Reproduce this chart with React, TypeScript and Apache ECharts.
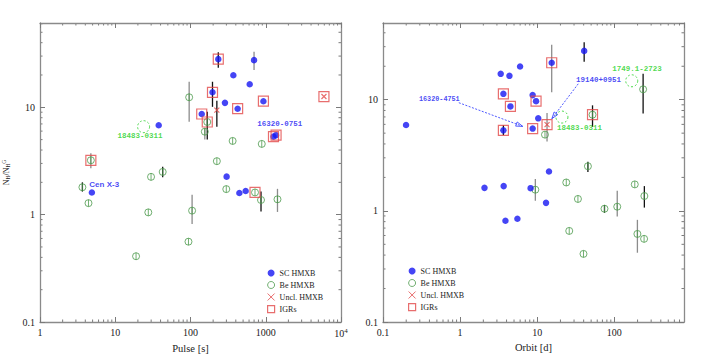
import React, { useEffect, useRef } from "react";
import * as echarts from "echarts";

// ---------- Left panel: N_H ratio vs spin period (Pulse [s]) ----------
const pulseSC: number[][] = [
  [37.8, 6.8], [141, 8.66], [196, 13.8], [234, 28.1], [287, 11.0], [371, 19.9],
  [423, 9.7], [302, 2.26], [612, 16.4], [699, 27.5], [931, 11.4], [1267, 5.33],
  [1371, 5.5], [4.89, 1.61], [446, 1.59], [541, 1.66],
];
const pulseBe: number[][] = [
  [4.74, 3.21], [29.9, 2.25], [42.7, 2.5], [96, 12.4], [167, 7.3], [155, 5.93],
  [363, 4.86], [224, 3.15], [885, 4.56], [3.66, 1.8], [4.41, 1.28], [27.5, 1.05],
  [18.9, 0.41], [94, 0.56], [105, 1.09], [299, 1.73], [720, 1.61], [865, 1.37],
  [1432, 1.39],
];
const pulseUncl: number[][] = [[224, 9.4], [5933, 12.6]];
const pulseIGR: number[][] = [
  [4.74, 3.21], [141, 8.66], [167, 7.3], [196, 13.8], [234, 28.1], [423, 9.7],
  [931, 11.4], [1267, 5.33], [1371, 5.5], [720, 1.61], [5933, 12.6],
];
const pulseSpecial: number[][] = [[23.8, 6.6]];
// [x, low, high]
const pulseErrBlack: number[][] = [
  [234, 23.4, 32.5], [196, 10.1, 17.3], [224, 6.6, 11.5], [167, 5.0, 9.1],
  [3.66, 1.64, 2.0], [42.7, 2.23, 2.8], [865, 1.07, 1.64],
];
const pulseErrGray: number[][] = [
  [96, 7.35, 17.3], [155, 5.0, 6.4], [699, 22.2, 33], [4.74, 2.7, 3.73],
  [105, 0.82, 1.53], [1432, 1.06, 1.74],
];
const pulseLabels = [
  { name: "Cen X-3", pos: [7.13, 1.89], kind: "blueSans" },
  { name: "18483-0311", pos: [21.4, 5.44], kind: "green" },
  { name: "16320-0751", pos: [1537, 6.95], kind: "blue" },
];

// ---------- Right panel: N_H ratio vs orbital period (Orbit [d]) ----------
const orbitSC: number[][] = [
  [0.199, 5.92], [3.36, 17.1], [4.36, 16.4], [5.99, 19.9], [3.64, 11.3], [4.49, 8.7],
  [3.64, 5.3], [8.72, 11.0], [9.65, 9.7], [10.3, 6.8], [8.72, 5.5], [15.4, 21.5],
  [40.6, 27.5], [14.2, 2.26], [2.07, 1.61], [3.67, 1.67], [8.2, 1.6], [13.0, 1.18],
  [3.87, 0.815], [5.53, 0.85],
];
const orbitBe: number[][] = [
  [12.6, 4.85], [52.1, 7.33], [236, 12.4], [45.4, 2.52], [9.45, 1.55], [23.8, 1.8],
  [33.7, 1.28], [26, 0.66], [39.8, 0.41], [74.5, 1.045], [109, 1.09], [184, 1.73],
  [245, 1.36], [199, 0.62], [243, 0.56],
];
const orbitUncl: number[][] = [[13.4, 5.97]];
const orbitIGR: number[][] = [
  [3.64, 11.3], [4.49, 8.7], [3.64, 5.3], [9.65, 9.7], [8.72, 5.5], [15.4, 21.5],
  [13.4, 5.97], [52.1, 7.33],
];
const orbitSpecial: number[][] = [[20.9, 6.98], [168, 14.8]];
const orbitErrBlack: number[][] = [
  [3.64, 4.8, 5.9], [40.6, 22, 32.9], [52.1, 5.7, 8.9], [236, 7.5, 17.1],
  [245, 1.07, 1.67], [45.4, 2.24, 2.77], [74.5, 0.96, 1.13],
];
const orbitErrGray: number[][] = [
  [13.4, 4.2, 7.6], [15.4, 11.7, 31.3], [9.45, 1.23, 1.93], [109, 0.89, 1.52],
  [199, 0.42, 0.83],
];
const orbitLabels = [
  { name: "16320-4751", pos: [0.537, 10.2], kind: "blueSmall" },
  { name: "19140+0951", pos: [62.1, 15.1], kind: "blue" },
  { name: "18483-0311", pos: [35.2, 5.61], kind: "green" },
  { name: "1749.1-2723", pos: [196, 19.0], kind: "green" },
];
// [x1, y1, x2, y2] (arrow from label to source)
const orbitArrows: number[][] = [
  [0.962, 9.4, 6.47, 5.76],
  [34.0, 13.9, 15.5, 6.76],
];

const legendNames = ["SC HMXB", "Be HMXB", "Uncl. HMXB", "IGRs"];
const pulseRange = [1, 10000];
const orbitRange = [0.1, 800];
const yRangeLeft = [0.1, 61];
const yRangeRight = [0.1, 49];

// minor tick values (axis decoration)
const pulseMinor = [
  2, 3, 4, 5, 6, 7, 8, 9, 20, 30, 40, 50, 60, 70, 80, 90,
  200, 300, 400, 500, 600, 700, 800, 900, 2000, 3000, 4000, 5000, 6000, 7000, 8000, 9000,
];
const orbitMinor = [
  0.2, 0.3, 0.4, 0.5, 0.6, 0.7, 0.8, 0.9, 2, 3, 4, 5, 6, 7, 8, 9,
  20, 30, 40, 50, 60, 70, 80, 90, 200, 300, 400, 500, 600, 700,
];
const yLeftMinor = [
  0.2, 0.3, 0.4, 0.5, 0.6, 0.7, 0.8, 0.9, 2, 3, 4, 5, 6, 7, 8, 9, 20, 30, 40, 50, 60,
];
const yRightMinor = [
  0.2, 0.3, 0.4, 0.5, 0.6, 0.7, 0.8, 0.9, 2, 3, 4, 5, 6, 7, 8, 9, 20, 30, 40,
];

const BLUE = "#1616f2";
const GREEN = "#4e9b4e";
const BRIGHT_GREEN = "#22d022";
const RED = "#e24a4a";
const AXIS = "#8a8a8a";
const TICK = "#7a7a7a";
const SERIF = "'Liberation Serif', 'DejaVu Serif', serif";
const MONO = "'Liberation Mono', 'DejaVu Sans Mono', monospace";

const BE_SYMBOL = "path://M0,-10 A10,10 0 1,1 0,10 A10,10 0 1,1 0,-10 Z M0,-10 L0,10";
const X_SYMBOL = "path://M-10,-10 L10,10 M-10,10 L10,-10";

function labelStyle(kind: string) {
  if (kind === "blueSans")
    return { color: BLUE, fontFamily: "'Liberation Sans', Arial, sans-serif", fontWeight: "bold", fontSize: 8 };
  if (kind === "green")
    return { color: BRIGHT_GREEN, fontFamily: MONO, fontWeight: "bold", fontSize: 7.5 };
  if (kind === "blueSmall")
    return { color: BLUE, fontFamily: MONO, fontWeight: "bold", fontSize: 6.8 };
  return { color: BLUE, fontFamily: MONO, fontWeight: "bold", fontSize: 7.5 };
}

function makeAxis(range: number[], position: string, showLabel: boolean, extra: any = {}, showMax = false) {
  return {
    type: "log",
    logBase: 10,
    min: range[0],
    max: range[1],
    position,
    axisLine: { show: true, onZero: false, lineStyle: { color: AXIS, width: 1.3 } },
    axisTick: { show: true, inside: true, length: 5, lineStyle: { color: TICK, width: 1 } },
    minorTick: { show: false },
    splitLine: { show: false },
    minorSplitLine: { show: false },
    axisLabel: {
      show: showLabel,
      showMaxLabel: showMax,
      margin: 5,
      color: "#222",
      fontFamily: SERIF,
      fontSize: 10,
      formatter: (v: number) => (Math.abs(v - 10000) < 1e-6 ? "{b|10}{s|4}" : String(v)),
      rich: {
        b: { fontFamily: SERIF, fontSize: 10, color: "#222" },
        s: { fontFamily: SERIF, fontSize: 7, color: "#222", verticalAlign: "top", padding: [0, 0, 5, 0] },
      },
    },
    ...extra,
  };
}

function minorTickSeries(idx: number, xs: number[], ys: number[]) {
  const ax = { xAxisIndex: idx * 2, yAxisIndex: idx * 2 };
  const L = 2.5;
  const style = { stroke: TICK, lineWidth: 1 };
  return [
    {
      type: "custom", name: "minorX", ...ax, z: 0, silent: true, clip: false,
      encode: { x: 0 },
      data: xs.map((v) => [v]),
      renderItem: (params: any, api: any) => {
        const cs = params.coordSys;
        const p = api.coord([api.value(0), 1]);
        return {
          type: "group",
          children: [
            { type: "line", shape: { x1: p[0], y1: cs.y + cs.height, x2: p[0], y2: cs.y + cs.height - L }, style },
            { type: "line", shape: { x1: p[0], y1: cs.y, x2: p[0], y2: cs.y + L }, style },
          ],
        };
      },
    },
    {
      type: "custom", name: "minorY", ...ax, z: 0, silent: true, clip: false,
      encode: { y: 0 },
      data: ys.map((v) => [v]),
      renderItem: (params: any, api: any) => {
        const cs = params.coordSys;
        const p = api.coord([1, api.value(0)]);
        return {
          type: "group",
          children: [
            { type: "line", shape: { x1: cs.x, y1: p[1], x2: cs.x + L, y2: p[1] }, style },
            { type: "line", shape: { x1: cs.x + cs.width, y1: p[1], x2: cs.x + cs.width - L, y2: p[1] }, style },
          ],
        };
      },
    },
  ];
}

function errSeries(data: number[][], idx: number, color: string) {
  return {
    type: "custom",
    name: "err",
    xAxisIndex: idx * 2,
    yAxisIndex: idx * 2,
    z: 1,
    silent: true,
    encode: { x: 0, y: [1, 2] },
    data,
    renderItem: (_p: any, api: any) => {
      const top = api.coord([api.value(0), api.value(2)]);
      const bot = api.coord([api.value(0), api.value(1)]);
      return {
        type: "line",
        shape: { x1: top[0], y1: top[1], x2: bot[0], y2: bot[1] },
        style: { stroke: color, lineWidth: 1.3 },
      };
    },
  };
}

function panelSeries(
  idx: number,
  sc: number[][],
  be: number[][],
  uncl: number[][],
  igr: number[][],
  special: number[][],
  errB: number[][],
  errG: number[][],
  labels: { name: string; pos: number[]; kind: string }[],
  arrows: number[][]
) {
  const ax = { xAxisIndex: idx * 2, yAxisIndex: idx * 2 };
  const list: any[] = [
    errSeries(errG, idx, "#8c8c8c"),
    errSeries(errB, idx, "#111"),
    {
      type: "scatter", name: "Be HMXB", ...ax, z: 2, data: be,
      symbol: BE_SYMBOL, symbolSize: 7,
      itemStyle: { color: "transparent", borderColor: GREEN, borderWidth: 1 },
    },
    {
      type: "scatter", name: "SC HMXB", ...ax, z: 3, data: sc,
      symbol: "circle", symbolSize: 6.5,
      itemStyle: { color: BLUE },
    },
    {
      type: "scatter", name: "Uncl. HMXB", ...ax, z: 4, data: uncl,
      symbol: X_SYMBOL, symbolSize: 5,
      itemStyle: { color: "transparent", borderColor: RED, borderWidth: 1.2 },
    },
    {
      type: "scatter", name: "IGRs", ...ax, z: 5, data: igr,
      symbol: "rect", symbolSize: 10,
      itemStyle: { color: "transparent", borderColor: RED, borderWidth: 1.2 },
    },
    {
      type: "scatter", name: "special", ...ax, z: 5, data: special,
      symbol: "circle", symbolSize: 12,
      itemStyle: { color: "transparent", borderColor: BRIGHT_GREEN, borderWidth: 1, borderType: [2, 2] },
    },
    {
      type: "scatter", name: "labels", ...ax, z: 6, silent: true,
      symbolSize: 1,
      itemStyle: { color: "transparent" },
      data: labels.map((l) => ({
        name: l.name,
        value: l.pos,
        label: { show: true, position: "inside", formatter: "{b}", ...labelStyle(l.kind) },
      })),
    },
  ];
  if (arrows.length) {
    list.push({
      type: "custom", name: "arrows", ...ax, z: 6, silent: true,
      encode: { x: [0, 2], y: [1, 3] },
      data: arrows,
      renderItem: (_p: any, api: any) => {
        const p1 = api.coord([api.value(0), api.value(1)]);
        const p2 = api.coord([api.value(2), api.value(3)]);
        const ang = Math.atan2(p2[1] - p1[1], p2[0] - p1[0]);
        const L = 7;
        const w = 0.32;
        const a = [p2[0] - L * Math.cos(ang - w), p2[1] - L * Math.sin(ang - w)];
        const b = [p2[0] - L * Math.cos(ang + w), p2[1] - L * Math.sin(ang + w)];
        return {
          type: "group",
          children: [
            {
              type: "line",
              shape: { x1: p1[0], y1: p1[1], x2: p2[0], y2: p2[1] },
              style: { stroke: "#3a46ff", lineWidth: 0.9, lineDash: [2, 1.5] },
            },
            {
              type: "polygon",
              shape: { points: [p2, a, b] },
              style: { fill: "none", stroke: "#3a46ff", lineWidth: 0.9 },
            },
          ],
        };
      },
    });
  }
  return list;
}

function legendFor(left: number, top: number) {
  return {
    left, top,
    orient: "vertical",
    itemWidth: 7,
    itemHeight: 7,
    itemGap: 4,
    selectedMode: false,
    textStyle: { fontFamily: SERIF, fontSize: 8, color: "#222" },
    data: [
      { name: legendNames[0], icon: "circle", itemStyle: { color: BLUE } },
      { name: legendNames[1], icon: "circle", itemStyle: { color: "transparent", borderColor: GREEN, borderWidth: 1 } },
      { name: legendNames[2], icon: X_SYMBOL, itemStyle: { color: "transparent", borderColor: RED, borderWidth: 1 } },
      { name: legendNames[3], icon: "rect", itemStyle: { color: "transparent", borderColor: RED, borderWidth: 1.2 } },
    ],
  };
}

export default function App() {
  const ref = useRef<HTMLDivElement>(null);
  useEffect(() => {
    if (!ref.current) return;
    const chart = echarts.init(ref.current, null, { renderer: "svg" });
    const option: any = {
      animation: false,
      backgroundColor: "#fff",
      grid: [
        { left: 40, top: 23, width: 301, height: 299 },
        { left: 383, top: 23, width: 301, height: 299 },
      ],
      xAxis: [
        makeAxis(pulseRange, "bottom", true, {
          gridIndex: 0,
          name: "Pulse [s]",
          nameLocation: "middle",
          nameGap: 17,
          nameTextStyle: { fontFamily: SERIF, fontSize: 10.5, color: "#222" },
        }, true),
        makeAxis(pulseRange, "top", false, { gridIndex: 0 }),
        makeAxis(orbitRange, "bottom", true, {
          gridIndex: 1,
          name: "Orbit [d]",
          nameLocation: "middle",
          nameGap: 15,
          nameTextStyle: { fontFamily: SERIF, fontSize: 10.5, color: "#222" },
        }),
        makeAxis(orbitRange, "top", false, { gridIndex: 1 }),
      ],
      yAxis: [
        makeAxis(yRangeLeft, "left", true, {
          gridIndex: 0,
          name: "{n|N}{s|H}{n|/N}{s|H}{p|G}",
          nameLocation: "middle",
          nameRotate: 90,
          nameGap: 29,
          nameTextStyle: {
            rich: {
              n: { fontFamily: SERIF, fontSize: 8, color: "#222" },
              s: { fontFamily: SERIF, fontSize: 5.5, color: "#222", verticalAlign: "bottom", padding: [4, 0, 0, 0] },
              p: { fontFamily: SERIF, fontSize: 5.5, color: "#222", verticalAlign: "top", padding: [0, 0, 4, 0] },
            },
          },
        }),
        makeAxis(yRangeLeft, "right", false, { gridIndex: 0 }),
        makeAxis(yRangeRight, "left", true, { gridIndex: 1 }),
        makeAxis(yRangeRight, "right", false, { gridIndex: 1 }),
      ],
      legend: [legendFor(262, 264), legendFor(403, 262)],
      series: [
        ...minorTickSeries(0, pulseMinor, yLeftMinor),
        ...minorTickSeries(1, orbitMinor, yRightMinor),
        ...panelSeries(0, pulseSC, pulseBe, pulseUncl, pulseIGR, pulseSpecial, pulseErrBlack, pulseErrGray, pulseLabels, []),
        ...panelSeries(1, orbitSC, orbitBe, orbitUncl, orbitIGR, orbitSpecial, orbitErrBlack, orbitErrGray, orbitLabels, orbitArrows),
      ],
    };
    chart.setOption(option);
    return () => chart.dispose();
  }, []);
  return (
    <div
      ref={ref}
      style={{ position: "fixed", left: 0, top: 0, width: 708, height: 361, background: "#fff" }}
    />
  );
}
